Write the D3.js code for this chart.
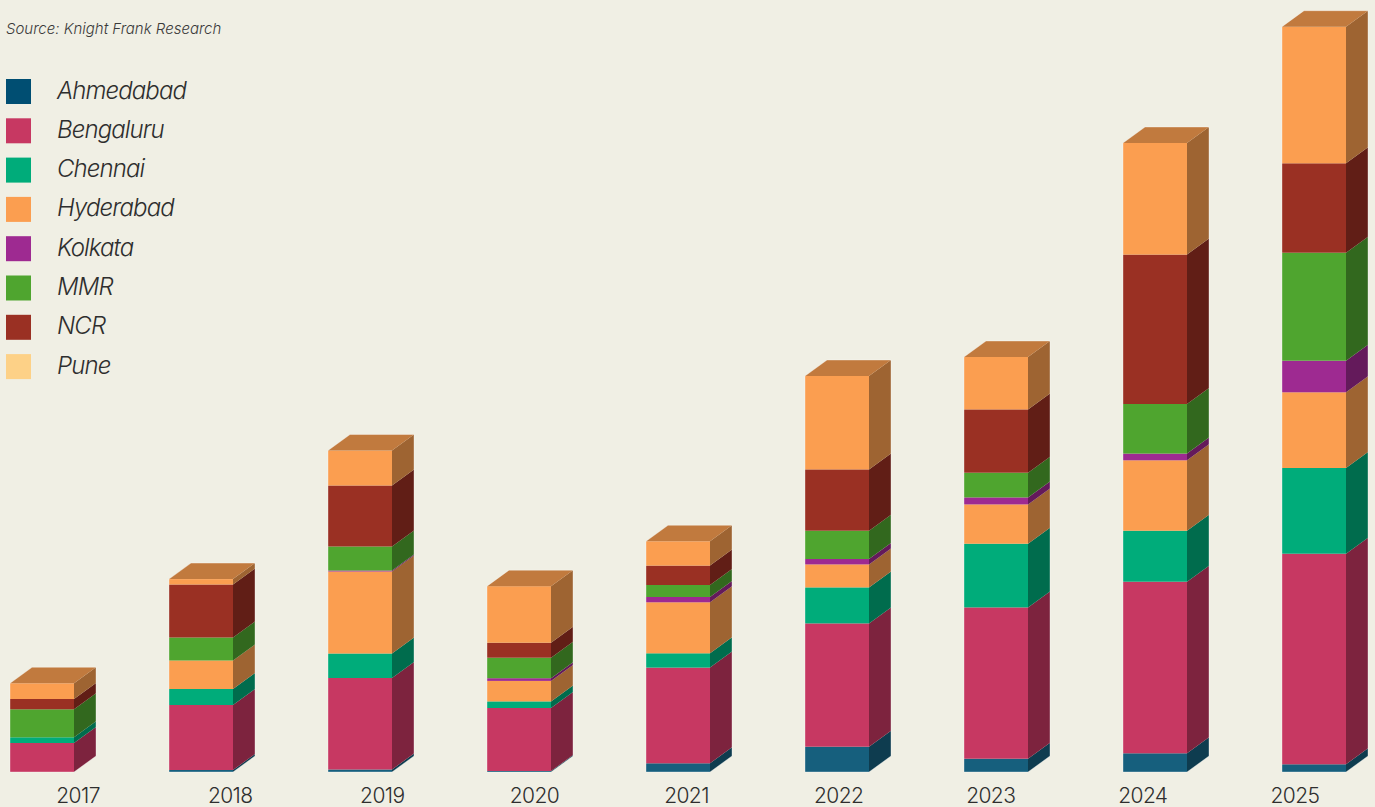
<!DOCTYPE html>
<html>
<head>
<meta charset="utf-8">
<script src="https://cdn.jsdelivr.net/npm/d3@7"></script>
<style>
	body { margin: 0; background: #f0efe4; }
	svg { display: block; }
	.legend text { font-family: Inter, "Open Sans", sans-serif; font-style: italic; font-weight: 300; fill: #2e2e2e; }
	.source { font-family: Inter, sans-serif; font-style: italic; font-weight: 300; fill: #3a3a3a; }
	.xaxis text { font-family: Inter, sans-serif; font-weight: 300; fill: #2e2e2e; }
</style>
</head>
<body>
<svg class="chart"></svg>
<script>

// years and cities, stacked from the bottom up
var years = ["2017", "2018", "2019", "2020", "2021", "2022", "2023", "2024", "2025"];
var cities = ["Ahmedabad", "Bengaluru", "Chennai", "Hyderabad", "Kolkata", "MMR", "NCR", "Pune"];

// values (no axis in the picture, so units are relative)
var ahmedabad = [0, 0.2, 0.25, 0.1, 0.87, 2.53, 1.33, 1.87, 0.77];
var bengaluru = [2.9, 6.5, 9.15, 6.3, 9.57, 12.33, 15.13, 17.16, 21.06];
var chennai   = [0.57, 1.6, 2.45, 0.66, 1.43, 3.6, 6.37, 5.1, 8.57];
var hyderabad = [0, 2.85, 8.2, 2.05, 5.1, 2.3, 3.93, 7.04, 7.57];
var kolkata   = [0, 0, 0.1, 0.27, 0.53, 0.54, 0.7, 0.67, 3.16];
var mmr       = [2.8, 2.3, 2.4, 2.05, 1.2, 2.83, 2.47, 4.96, 10.8];
var ncr       = [1.03, 5.3, 6.1, 1.5, 1.94, 6.13, 6.33, 14.94, 8.94];
var pune      = [1.57, 0.54, 3.5, 5.65, 2.43, 9.34, 5.24, 11.16, 13.66];

// legend colours, and the colours the bars were actually painted with
var legendColors = ["#004e72", "#c73862", "#00ac7a", "#fb9e50", "#9e2a91", "#4fa52f", "#9a3023", "#fdd187"];
var barColors    = ["#165f7d", "#c73862", "#00ac7a", "#fb9e50", "#9e2a91", "#4fa52f", "#9a3023", "#fb9e50"];

var width = 1375;
var height = 807;
var barWidth = 64;
var depthX = 22;
var depthY = 16;

var seriesValues = [ahmedabad, bengaluru, chennai, hyderabad, kolkata, mmr, ncr, pune];

// build rows for d3.stack
var table = years.map(function(y, i) {
	var row = { year: y };
	cities.forEach(function(c, j) { row[c] = seriesValues[j][i]; });
	return row;
});

var stacked = d3.stack().keys(cities)(table);

var svg = d3.select(".chart")
	.attr("width", width)
	.attr("height", height);

svg.append("rect")
	.attr("width", width)
	.attr("height", height)
	.attr("fill", "#f0efe4");

// bars and labels sit on slightly different grids in the original
var x = d3.scalePoint()
	.domain(years)
	.range([10, 1282]);
var xLabel = d3.scaleBand()
	.domain(years)
	.range([2, 1371]);
var y = d3.scaleLinear()
	.domain([0, 74.5])
	.range([772, 27]);

function shade(c, k) {
	var col = d3.rgb(c);
	return d3.rgb(col.r * k, col.g * k, col.b * k).toString();
}

// one group per city layer
var layer = svg.selectAll(".layer")
	.data(stacked)
.enter().append("g")
	.attr("class", "layer");

layer.each(function(s, j) {
	var g = d3.select(this);
	var seg = s.filter(function(d) { return d[1] - d[0] > 0; });

	// front faces
	g.selectAll(".front")
		.data(seg)
	.enter().append("rect")
		.attr("class", "front")
		.attr("x", function(d) { return x(d.data.year); })
		.attr("y", function(d) { return y(d[1]); })
		.attr("width", barWidth)
		.attr("height", function(d) { return y(d[0]) - y(d[1]); })
		.attr("fill", barColors[j]);

	// side faces
	g.selectAll(".side")
		.data(seg)
	.enter().append("path")
		.attr("class", "side")
		.attr("d", function(d) {
			var x0 = x(d.data.year) + barWidth;
			var yt = y(d[1]), yb = y(d[0]);
			return "M" + x0 + "," + yt + "L" + (x0 + depthX) + "," + (yt - depthY) +
				"L" + (x0 + depthX) + "," + (yb - depthY) + "L" + x0 + "," + yb + "Z";
		})
		.attr("fill", shade(barColors[j], 0.63));
});

// top caps use the colour of the highest segment
var tops = years.map(function(yr, i) {
	var total = stacked[stacked.length - 1][i][1];
	var k = cities.length - 1;
	while (k > 0 && seriesValues[k][i] <= 0) k--;
	return { year: yr, total: total, color: barColors[k] };
});

svg.selectAll(".top")
	.data(tops)
.enter().append("path")
	.attr("class", "top")
	.attr("d", function(d) {
		var x0 = x(d.year), yt = y(d.total);
		return "M" + x0 + "," + yt + "L" + (x0 + depthX) + "," + (yt - depthY) +
			"L" + (x0 + barWidth + depthX) + "," + (yt - depthY) + "L" + (x0 + barWidth) + "," + yt + "Z";
	})
	.attr("fill", function(d) { return shade(d.color, 0.77); });

// faint light outline round each prism
svg.selectAll(".outline")
	.data(tops)
.enter().append("path")
	.attr("class", "outline")
	.attr("d", function(d) {
		var x0 = x(d.year), yt = y(d.total), yb = y(0);
		return "M" + x0 + "," + yb + "L" + x0 + "," + yt + "L" + (x0 + depthX) + "," + (yt - depthY) +
			"L" + (x0 + barWidth + depthX) + "," + (yt - depthY) + "L" + (x0 + barWidth + depthX) + "," + (yb - depthY) +
			"L" + (x0 + barWidth) + "," + yb + "Z";
	})
	.attr("fill", "none")
	.attr("stroke", "#ffffff")
	.attr("stroke-opacity", 0.35)
	.attr("stroke-width", 1);

// year labels
var xAxis = svg.append("g")
	.attr("class", "xaxis")
	.attr("transform", "translate(0,786)")
	.call(d3.axisBottom(xLabel).tickSize(0).tickPadding(0));
xAxis.select(".domain").remove();
xAxis.selectAll("text")
	.attr("dy", "0.71em")
	.attr("y", 2)
	.style("font-size", "21px")
	.style("letter-spacing", "-0.6px");

// source note
svg.append("text")
	.attr("class", "source")
	.attr("x", 6)
	.attr("y", 34)
	.style("font-size", "15px")
	.style("letter-spacing", "0px")
	.text("Source: Knight Frank Research");

// legend
var legend = svg.append("g")
	.attr("class", "legend")
	.selectAll("g")
	.data(cities)
.enter().append("g")
	.attr("transform", function(d, i) { return "translate(6," + (79 + i * 39.3) + ")"; });

legend.append("rect")
	.attr("width", 25)
	.attr("height", 25)
	.attr("fill", function(d, i) { return legendColors[i]; });

legend.append("text")
	.attr("x", 51)
	.attr("y", 19.5)
	.style("font-size", "24px")
	.style("letter-spacing", "-0.9px")
	.text(function(d) { return d; });

</script>
</body>
</html>
